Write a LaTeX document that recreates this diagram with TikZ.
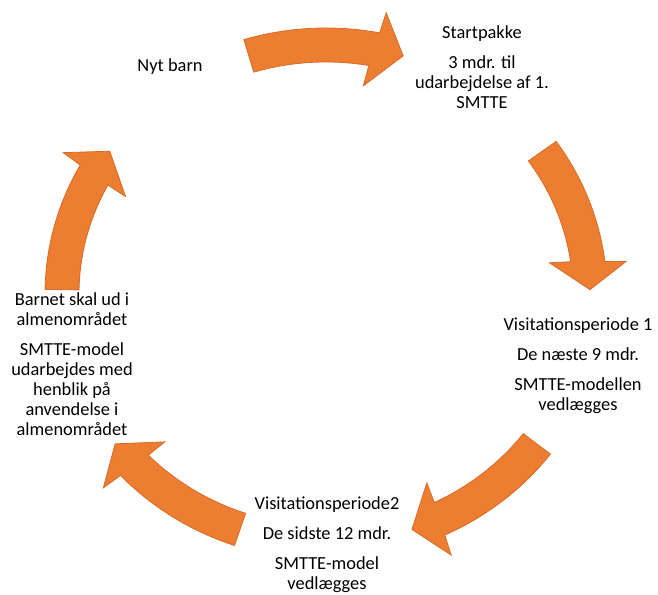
\documentclass[tikz,border=0pt]{standalone}
\usepackage{fontspec}
\setmainfont{Carlito}
\definecolor{arrowfill}{RGB}{237,125,49}
\definecolor{arrowline}{RGB}{214,108,40}
\tikzset{
  cyclearrow/.style={fill=arrowfill, draw=arrowline, line width=0.6pt, line join=miter},
  lbl/.style={align=center, font=\fontsize{13.8}{15}\selectfont, inner sep=0pt}
}
% #1 = middle angle of the arrow; it runs clockwise from #1+17 to #1-17
\newcommand\cycarrow[1]{%
  \pgfmathsetmacro\cyA{#1+17}%
  \pgfmathsetmacro\cyT{#1-17}%
  \pgfmathsetmacro\cySo{\cyT+6}%
  \pgfmathsetmacro\cySi{\cyT+7}%
  \pgfmathsetmacro\cyBo{\cyT+5.5}%
  \pgfmathsetmacro\cyBi{\cyT+7.5}%
  \path[cyclearrow] (\cyA:281 and 266)
    arc[start angle=\cyA, end angle=\cySo, x radius=281, y radius=266]
    -- (\cyBo:302 and 287) -- (\cyT:264 and 249) -- (\cyBi:226 and 211)
    -- (\cySi:247 and 232)
    arc[start angle=\cySi, end angle=\cyA, x radius=247, y radius=232]
    -- cycle;
}
\begin{document}
\begin{tikzpicture}[x=0.75pt,y=0.75pt]
\useasboundingbox (0,0) rectangle (658,595);
\coordinate (C) at (326,301);
\begin{scope}[shift={(C)}]
  \cycarrow{90}
  \cycarrow{18}
  \cycarrow{-54}
  \cycarrow{-126}
  \cycarrow{162}
\end{scope}
\node[lbl] (nyt) at (170,528) {Nyt barn};
\node[lbl] (start) at (482,528) {Startpakke\\[7.5pt]3 mdr. til\\udarbejdelse af 1.\\SMTTE};
\node[lbl] (v1) at (578,229) {Visitationsperiode 1\\[7.5pt]De næste 9 mdr.\\[7.5pt]SMTTE-modellen\\vedlægges};
\node[lbl] (v2) at (327,50) {Visitationsperiode2\\[7.5pt]De sidste 12 mdr.\\[7.5pt]SMTTE-model\\vedlægges};
\node[lbl] (barn) at (72,231) {Barnet skal ud i\\almenområdet\\[7.5pt]SMTTE-model\\udarbejdes med\\henblik på\\anvendelse i\\almenområdet};
\end{tikzpicture}
\end{document}
